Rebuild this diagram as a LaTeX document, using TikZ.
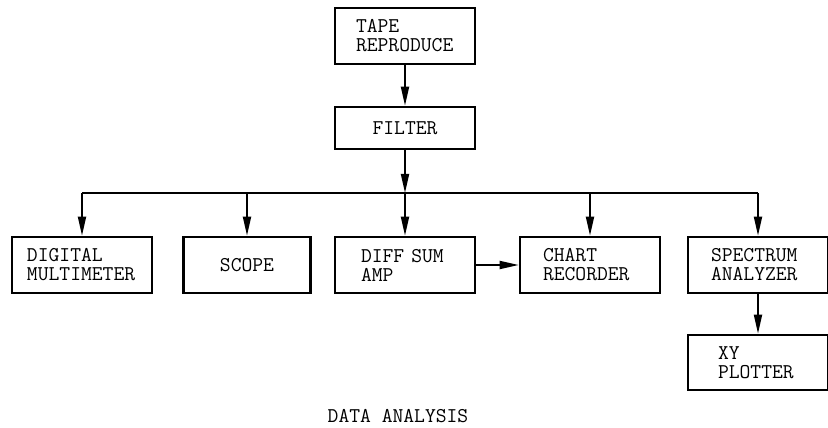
\documentclass[tikz,border=0pt]{standalone}
\usepackage{tikz}
\usetikzlibrary{arrows.meta}
\tikzset{
    block/.style={draw, line width=2.6pt, minimum width=140pt, minimum height=56pt,
    	inner ysep=0pt, font=\fontsize{21}{19}\selectfont\ttfamily, align=left},
    pad/.style={inner xsep=#1, text width={140pt-2*#1}}
}
\tikzset{
    every edge/.append style={line width=1.8pt, -{Triangle[length=19pt,width=8pt]}}
}

\begin{document}
\begin{tikzpicture}[x=1pt, y=1pt]
	\useasboundingbox (0,0) rectangle (828,428);
	\node (tape) [block, pad=21pt] at (405,392) {TAPE\\REPRODUCE};
	\node (filter) [block, minimum height=42pt] at (405,300) {FILTER};
	\node (dmm) [block, pad=15pt] at (82,163) {DIGITAL\\MULTIMETER};
	\node (scope) [block, minimum width=127pt] at (247,163) {SCOPE};
	\node (diff) [block, pad=26pt] at (405,163) {DIFF SUM\\AMP};
	\node (chart) [block, pad=23pt] at (590,163) {CHART\\RECORDER};
	\node (spec) [block, pad=23pt] at (758,163) {SPECTRUM\\ANALYZER};
	\node (xy) [block, pad=30pt, minimum height=55pt] at (758,65.5) {XY\\PLOTTER};
	\node (title) [font=\fontsize{21}{19}\selectfont\ttfamily] at (398,12) {DATA ANALYSIS};
	\coordinate (bus) at (405,235);
	
	\draw (tape) edge (filter); \draw (filter) edge (bus);
	\draw[line width=1.8pt] (dmm.north |- bus) -- (spec.north |- bus);
	\draw (dmm.north |- bus) edge (dmm.north);
	\draw (scope.north |- bus) edge (scope.north);
	\draw (diff.north |- bus) edge (diff.north);
	\draw (chart.north |- bus) edge (chart.north);
	\draw (spec.north |- bus) edge (spec.north);
	\draw (diff) edge (chart); \draw (spec) edge (xy);
\end{tikzpicture}
\end{document}
